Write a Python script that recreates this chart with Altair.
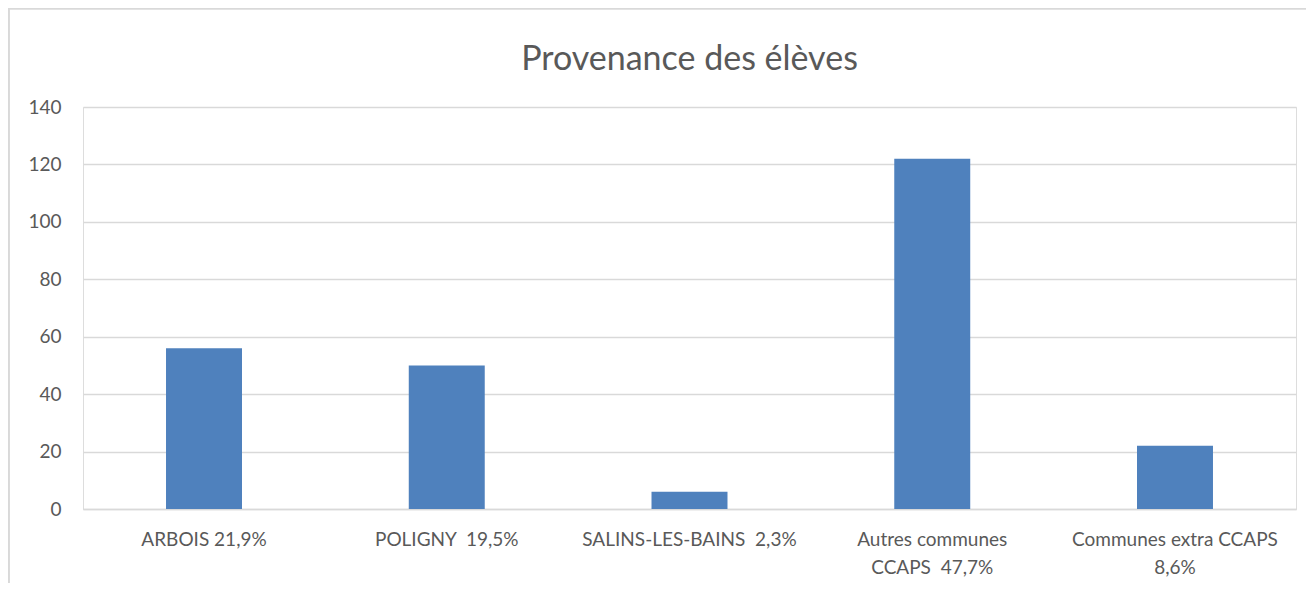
import altair as alt
import pandas as pd

NB = "\u00a0"
categories = ["ARBOIS 21,9%", "POLIGNY" + NB + " 19,5%", "SALINS-LES-BAINS" + NB + " 2,3%",
              "Autres communes|CCAPS" + NB + " 47,7%", "Communes extra CCAPS|8,6%"]
values = [56, 50, 6, 122, 22]

df = pd.DataFrame({"cat": categories, "val": values})

bars = alt.Chart(df).mark_bar(color="#4f81bd").encode(
    x=alt.X("cat:N", sort=categories, title=None,
            scale=alt.Scale(paddingInner=0.687, paddingOuter=0.342),
            axis=alt.Axis(labelAngle=0, labelExpr="split(datum.label, '|')",
                          labelLineHeight=28, labelPadding=21, ticks=False,
                          labelLimit=0,
                          domainColor="#d9d9d9", domainWidth=1.5,
                          labelFontSize=19, labelColor="#595959", labelFont="Lato")),
    y=alt.Y("val:Q", title=None,
            scale=alt.Scale(domain=[0, 140]),
            axis=alt.Axis(values=[0, 20, 40, 60, 80, 100, 120, 140], ticks=False,
                          domain=False, gridColor="#d9d9d9", gridWidth=1.5,
                          labelPadding=22, labelFontSize=19, labelColor="#595959",
                          labelFont="Lato")),
)

frame = alt.Chart(df).mark_rect(fill=None, stroke="#d9d9d9", strokeWidth=1.5).encode(
    x=alt.value(-74.3), x2=alt.value(1250), y=alt.value(-98.5), y2=alt.value(495)
)

chart = alt.layer(frame, bars).properties(
    width=1213, height=402,
    title=alt.TitleParams("Provenance des élèves", fontSize=34, font="Lato",
                          fontWeight="normal", color="#595959", anchor="middle",
                          frame="group", offset=-69),
    autosize=alt.AutoSizeParams(type="none"),
    padding={"left": 75, "top": 99, "right": 10, "bottom": 74},
).configure_view(stroke=None).configure(background="white")

chart.save("out.html", embed_options={"renderer": "svg", "actions": False})
